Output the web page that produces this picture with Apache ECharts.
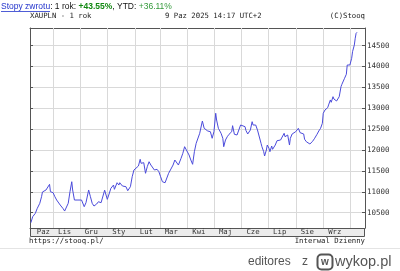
<!DOCTYPE html>
<html><head><meta charset="utf-8">
<script src="https://cdn.jsdelivr.net/npm/echarts@6/dist/echarts.min.js"></script>
<style>html,body{margin:0;padding:0;background:#fff}#c{width:400px;height:271px}</style>
</head><body><div id="c"></div>
<script>
// axis date range (calendar days)
const startDate = [2024, 9, 6];   // 2024-10-06
const dayCount = 378;             // through 2025-10-18

// day offsets from startDate and XAU/PLN closing values
const dayOffsets = [1,3,6,8,11,13,14,16,18,20,22,23,26,28,30,32,34,37,39,40,43,45,47,48,50,52,54,56,58,61,63,66,68,70,72,75,77,80,82,84,87,89,91,94,95,98,100,101,104,106,108,110,113,115,117,119,122,124,125,128,130,132,134,136,138,140,143,145,147,149,152,154,156,158,161,163,165,167,170,172,174,176,179,181,183,185,187,188,191,193,194,196,198,200,203,205,207,209,210,212,215,217,218,220,222,224,227,228,230,233,235,237,239,242,243,245,248,250,251,254,256,258,260,261,263,264,266,267,269,270,272,273,275,276,278,280,282,284,286,287,289,290,292,293,295,296,299,301,302,304,306,308,309,311,313,315,317,318,320,323,325,327,329,330,332,333,335,336,338,339,341,342,344,345,347,348,350,351,353,354,356,357,358,360,362,363,365,366,367,368];
const closeValues = [10260,10404,10485,10596,10725,10883,10996,10965,11044,11060,11180,11003,10980,10883,10804,10820,10684,10605,10540,10524,10725,11003,11242,11044,10804,10780,10804,10763,10804,10644,10740,11044,10883,10725,10660,10708,10763,10740,10787,11040,10820,10948,11084,11163,11060,11218,11163,11218,11140,11187,11123,11027,11123,11362,11523,11563,11618,11779,11683,11698,11444,11602,11721,11642,11683,11523,11539,11482,11362,11242,11218,11242,11444,11523,11642,11762,11721,11642,11803,11923,12081,12042,11882,11762,11659,11961,12162,12121,12402,12600,12696,12521,12560,12457,12440,12282,12440,12881,12720,12521,12402,12282,12081,12241,12320,12378,12440,12584,12378,12361,12320,12600,12630,12560,12470,12385,12481,12680,12600,12600,12481,12440,12162,12081,11961,11858,12002,12121,12042,11961,12097,12018,12002,12121,12224,12200,12241,12224,12402,12320,12282,12361,12121,12282,12385,12361,12440,12481,12521,12416,12380,12385,12260,12200,12177,12145,12110,12210,12270,12378,12457,12521,12641,12881,12960,12919,13015,13080,13200,13144,13278,13223,13200,13175,13160,13278,13518,13575,13559,13719,13815,14037,14053,14037,14198,14356,14517,14677,14797,14820];

const monthLabels = ['Paz','Lis','Gru','Sty','Lut','Mar','Kwi','Maj','Cze','Lip','Sie','Wrz'];
const monthLabelDates = ['2024-10-21','2024-11-14','2024-12-14','2025-01-14','2025-02-14','2025-03-14','2025-04-14','2025-05-14','2025-06-14','2025-07-14','2025-08-14','2025-09-14'];
const monthStarts = ['2024-11-01','2024-12-01','2025-01-01','2025-02-01','2025-03-01','2025-04-01','2025-05-01','2025-06-01','2025-07-01','2025-08-01','2025-09-01','2025-10-01'];
const yTicks = [10500,11000,11500,12000,12500,13000,13500,14000,14500];
const yMin = 10134, yMax = 14923;

const categories = [];
const t0 = Date.UTC(startDate[0], startDate[1], startDate[2]);
for (let i = 0; i < dayCount; i++) categories.push(new Date(t0 + i * 86400000).toISOString().slice(0, 10));
const seriesData = dayOffsets.map((d, i) => [categories[d], closeValues[i]]);
const gridLineData = monthStarts.map(d => [d, yMin, yMax]);

const mono = 'DejaVu Sans Mono';
const frame = {show: true, lineStyle: {color: '#555', width: 1}};
const chart = echarts.init(document.getElementById('c'), null, {renderer: 'canvas'});
chart.setOption({
  animation: false,
  backgroundColor: '#fff',
  grid: {left: 30, right: 35, top: 28, bottom: 43},
  xAxis: [{
    type: 'category', data: categories, boundaryGap: false,
    axisLine: frame, axisTick: {show: false}, splitLine: {show: false},
    axisLabel: {
      interval: (i, v) => monthLabelDates.indexOf(v) >= 0,
      formatter: v => monthLabels[monthLabelDates.indexOf(v)] || '',
      fontFamily: mono, fontSize: 7.3, color: '#333', margin: 1
    }
  }, {
    type: 'category', data: categories, boundaryGap: false, position: 'top',
    axisLine: frame, axisTick: {show: false}, axisLabel: {show: false}, splitLine: {show: false}
  }],
  yAxis: [{
    type: 'value', position: 'right', min: yMin, max: yMax,
    axisLine: frame,
    axisTick: {show: true, inside: true, length: 3, customValues: yTicks, lineStyle: {color: '#555'}},
    axisLabel: {customValues: yTicks, formatter: v => String(v), fontFamily: mono, fontSize: 7.5, color: '#333', margin: 2},
    splitLine: {show: true, lineStyle: {color: '#d9d9d9', width: 1}}
  }, {
    type: 'value', position: 'left', min: yMin, max: yMax,
    axisLine: frame,
    axisTick: {show: true, inside: true, length: 3, customValues: yTicks, lineStyle: {color: '#555'}},
    axisLabel: {show: false}, splitLine: {show: false}
  }],
  series: [{
    // month-boundary grid lines
    type: 'custom', data: gridLineData, xAxisIndex: 0, yAxisIndex: 0, z: 1, silent: true,
    encode: {x: 0, y: [1, 2]},
    renderItem: (params, api) => {
      const p0 = api.coord([api.value(0), api.value(1)]);
      const p1 = api.coord([api.value(0), api.value(2)]);
      const x = Math.round(p0[0]) + 0.5;
      return {type: 'line', shape: {x1: x, y1: p0[1], x2: x, y2: p1[1]},
        style: {stroke: '#d9d9d9', lineWidth: 1, fill: null}};
    }
  }, {
    type: 'line', data: seriesData, xAxisIndex: 0, yAxisIndex: 0, showSymbol: false, symbol: 'none', z: 3,
    lineStyle: {color: '#4b4bdb', width: 1}
  }],
  graphic: [
    {type: 'rect', z: -1, shape: {x: 30.5, y: 228.5, width: 334, height: 8}, style: {fill: '#ececec', stroke: '#555', lineWidth: 1}},
    {type: 'text', x: 1, y: 7, style: {
      text: '{a|Stopy zwrotu}{b|: 1 rok: }{g|+43.55%}{b|, YTD: }{h|+36.11%}',
      verticalAlign: 'middle',
      rich: {
        a: {fontFamily: 'Liberation Sans', fontSize: 8.5, fill: '#2233cc'},
        b: {fontFamily: 'Liberation Sans', fontSize: 8.5, fill: '#111'},
        g: {fontFamily: 'Liberation Sans', fontSize: 8.5, fill: '#118811', fontWeight: 'bold'},
        h: {fontFamily: 'Liberation Sans', fontSize: 8.5, fill: '#33993a'}
      }}},
    {type: 'line', shape: {x1: 1, y1: 11.5, x2: 50, y2: 11.5}, style: {stroke: '#2233cc', lineWidth: 0.8}},
    {type: 'text', x: 30, y: 16, style: {text: 'XAUPLN - 1 rok', fontFamily: mono, fontSize: 7.3, fill: '#222', verticalAlign: 'middle'}},
    {type: 'text', x: 165, y: 16, style: {text: '9 Paz 2025 14:17 UTC+2', fontFamily: mono, fontSize: 7.3, fill: '#222', verticalAlign: 'middle'}},
    {type: 'text', x: 365, y: 16, style: {text: '(C)Stooq', fontFamily: mono, fontSize: 7.3, fill: '#222', align: 'right', verticalAlign: 'middle'}},
    {type: 'text', x: 29, y: 241.5, style: {text: 'https://stooq.pl/', fontFamily: mono, fontSize: 7.3, fill: '#222', verticalAlign: 'middle'}},
    {type: 'text', x: 365, y: 241.5, style: {text: 'Interwal Dzienny', fontFamily: mono, fontSize: 7.3, fill: '#222', align: 'right', verticalAlign: 'middle'}},
    {type: 'line', shape: {x1: 0, y1: 248.5, x2: 400, y2: 248.5}, style: {stroke: '#e4e4e4', lineWidth: 1}},
    {type: 'text', x: 248, y: 262, style: {text: 'editores', fontFamily: 'Liberation Sans', fontSize: 12, fill: '#555', verticalAlign: 'middle'}},
    {type: 'text', x: 302, y: 262, style: {text: 'z', fontFamily: 'Liberation Sans', fontSize: 12, fill: '#555', verticalAlign: 'middle'}},
    {type: 'rect', shape: {x: 317.5, y: 254.5, width: 15, height: 15, r: 4}, style: {fill: 'none', stroke: '#555', lineWidth: 2}},
    {type: 'text', x: 325, y: 262, style: {text: 'w', fontFamily: 'Liberation Sans', fontSize: 10, fontWeight: 'bold', fill: '#555', align: 'center', verticalAlign: 'middle'}},
    {type: 'text', x: 335, y: 261.5, style: {text: 'wykop.pl', fontFamily: 'Liberation Sans', fontSize: 14.5, fill: '#555', verticalAlign: 'middle'}}
  ]
});
</script></body></html>
